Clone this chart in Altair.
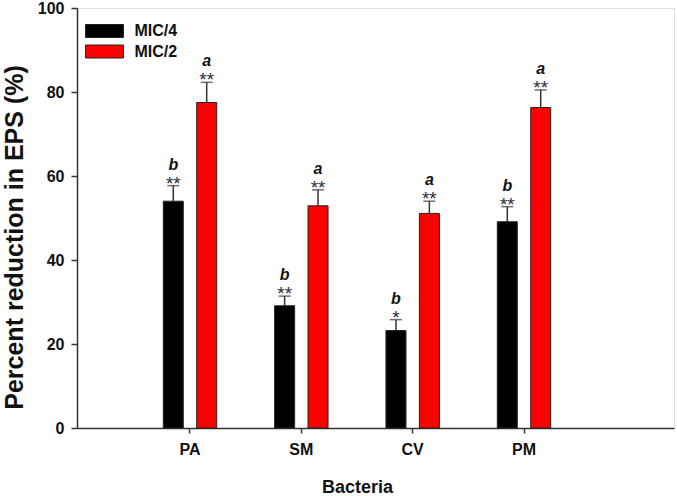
import altair as alt
import pandas as pd

bacteria = ["PA", "SM", "CV", "PM"]
groups = ["MIC/4", "MIC/2"]
mic4 = [54.0, 29.1, 23.2, 49.1]
mic4_err = [3.7, 2.3, 2.6, 3.6]
mic2 = [77.5, 52.9, 51.1, 76.3]
mic2_err = [4.8, 3.8, 2.9, 4.2]
stars4 = ["**", "**", "*", "**"]
stars2 = ["**", "**", "**", "**"]
letters4 = ["b", "b", "b", "b"]
letters2 = ["a", "a", "a", "a"]
y_ticks = [0, 20, 40, 60, 80, 100]

rows = []
for i, b in enumerate(bacteria):
    rows.append({"Bacteria": b, "Group": "MIC/4", "value": mic4[i], "err": mic4_err[i],
                 "top": mic4[i] + mic4_err[i], "stars": stars4[i], "letter": letters4[i]})
    rows.append({"Bacteria": b, "Group": "MIC/2", "value": mic2[i], "err": mic2_err[i],
                 "top": mic2[i] + mic2_err[i], "stars": stars2[i], "letter": letters2[i]})
df = pd.DataFrame(rows)

FONT = "Liberation Sans"

x_enc = alt.X("Bacteria:N", sort=bacteria,
              scale=alt.Scale(paddingInner=0, paddingOuter=0.681, align=0.378),
              axis=alt.Axis(title="Bacteria", labelAngle=0, labelFont=FONT, labelFontSize=16,
                            labelFontWeight="bold", labelColor="#111", labelPadding=8,
                            titleFont=FONT, titleFontSize=18, titleFontWeight="bold",
                            titleColor="#111", titleX=280, titleY=64,
                            titleBaseline="alphabetic",
                            tickSize=5, tickWidth=1.5, tickColor="#333",
                            domainColor="#333", domainWidth=1.5))
xoff = alt.XOffset("Group:N", sort=groups,
                   scale=alt.Scale(paddingInner=0.401, paddingOuter=0.867))
y_scale = alt.Scale(domain=[0, 100], nice=False)
y_axis = alt.Axis(title="Percent reduction in EPS (%)", values=y_ticks, grid=False,
                  labelFont=FONT, labelFontSize=16, labelFontWeight="bold", labelColor="#111",
                  labelPadding=7, titleFont=FONT, titleFontSize=25, titleFontWeight="bold",
                  titleColor="#111", titleX=-63, titleY=229, titleBaseline="middle",
                  titleAlign="center", titleAngle=270,
                  tickSize=6, tickWidth=1.5, tickColor="#333",
                  domainColor="#333", domainWidth=1.5)

base = alt.Chart(df)

bars = base.mark_bar(stroke="#222", strokeWidth=1).encode(
    x=x_enc,
    xOffset=xoff,
    y=alt.Y("value:Q", scale=y_scale, axis=y_axis),
    fill=alt.Fill("Group:N", sort=groups,
                  scale=alt.Scale(domain=groups, range=["#000000", "#ff0000"]),
                  legend=alt.Legend(title=None, orient="none", legendX=19.5, legendY=15,
                                    padding=0,
                                    symbolType="M-2.92,-1H2.92V1H-2.92Z", symbolSize=169,
                                    symbolStrokeColor="#222", symbolStrokeWidth=1,
                                    symbolOpacity=1,
                                    labelFont=FONT, labelFontSize=16, labelFontWeight="bold",
                                    labelColor="#111", labelOffset=22, rowPadding=2.5)),
)

err = base.mark_rule(color="#333", strokeWidth=1.5).encode(
    x=alt.X("Bacteria:N", sort=bacteria),
    xOffset=xoff,
    y=alt.Y("value:Q", scale=y_scale),
    y2="top:Q",
)

caps = base.mark_tick(color="#333", thickness=1.5, size=12, orient="horizontal").encode(
    x=alt.X("Bacteria:N", sort=bacteria),
    xOffset=xoff,
    y=alt.Y("top:Q", scale=y_scale),
)

star_txt = base.mark_text(font=FONT, fontSize=19, color="#2b2b3b", baseline="alphabetic",
                          dy=4).encode(
    x=alt.X("Bacteria:N", sort=bacteria),
    xOffset=xoff,
    y=alt.Y("top:Q", scale=y_scale),
    text="stars:N",
)

letter_txt = base.mark_text(font=FONT, fontSize=16, fontStyle="italic", fontWeight="bold",
                            color="#111", baseline="alphabetic", dy=-16).encode(
    x=alt.X("Bacteria:N", sort=bacteria),
    xOffset=xoff,
    y=alt.Y("top:Q", scale=y_scale),
    text="letter:N",
)

chart = alt.layer(bars, err, caps, star_txt, letter_txt).properties(
    width=597, height=420,
    autosize=alt.AutoSizeParams(type="none"),
    padding={"left": 77, "top": 8, "right": 3, "bottom": 68}
).configure_view(stroke="#333", strokeWidth=1.5).configure(background="white")

chart.save("out.html", embed_options={"renderer": "svg", "actions": False})
